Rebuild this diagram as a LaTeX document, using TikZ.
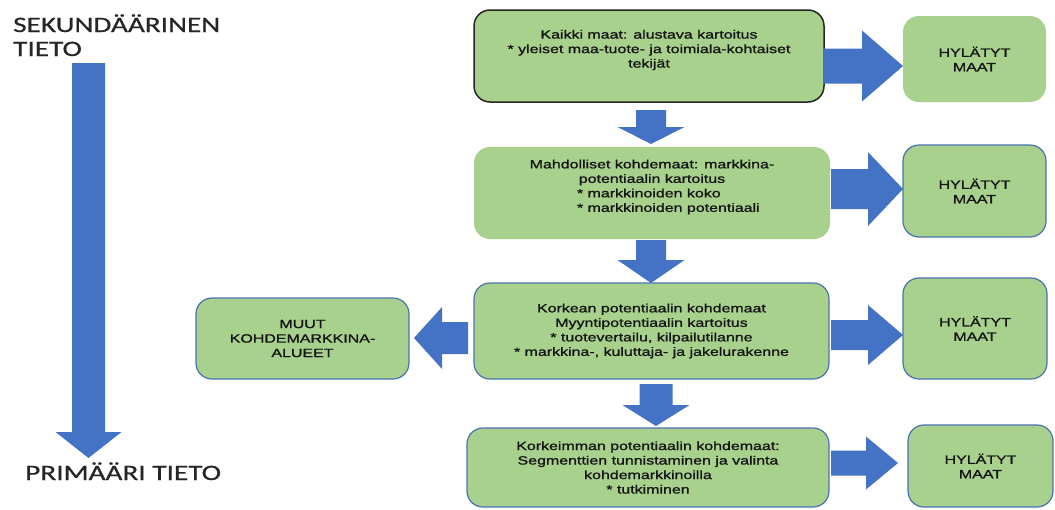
\documentclass[tikz,border=0pt]{standalone}
\usepackage{fontspec}
\setmainfont{Liberation Sans}[FakeStretch=1.33,FakeBold=1.2]
\newfontfamily\sidefont{Carlito}[FakeStretch=1.33,FakeBold=0.6]
\definecolor{boxgreen}{HTML}{A9D18E}
\definecolor{arrowblue}{HTML}{4472C4}
\definecolor{edgeblue}{HTML}{4A72B0}
\definecolor{txt}{HTML}{141414}
\definecolor{sidetxt}{HTML}{262626}
% horizontal block arrow: tail x, head-base x, tip x, centre y, shaft half width, head half width
\newcommand{\blockR}[6]{\fill[arrowblue] (#1,#4-#5) -- (#2,#4-#5) -- (#2,#4-#6) -- (#3,#4) -- (#2,#4+#6) -- (#2,#4+#5) -- (#1,#4+#5) -- cycle;}
% vertical block arrow: centre x, tail y, head-base y, tip y, shaft half width, head half width
\newcommand{\blockD}[6]{\fill[arrowblue] (#1-#5,#2) -- (#1-#5,#3) -- (#1-#6,#3) -- (#1,#4) -- (#1+#6,#3) -- (#1+#5,#3) -- (#1+#5,#2) -- cycle;}
\tikzset{
  box/.style={rectangle, rounded corners=16pt, fill=boxgreen, inner sep=0pt, align=center,
    text=txt, font=\fontsize{12}{14.5}\selectfont},
  blueedge/.style={draw=edgeblue, line width=1.2pt},
  darkedge/.style={draw=black!85, line width=1.5pt},
  side/.style={inner sep=0pt, anchor=base west, text=sidetxt, font=\sidefont\fontsize{22}{24}\selectfont},
}
\begin{document}
\begin{tikzpicture}[x=1pt,y=-1pt]
\fill[white] (0,0) rectangle (1055,509);
\useasboundingbox (0,0) rectangle (1055,509);

% left labels and big arrow
\node[side] (sek) at (13,32) {SEKUNDÄÄRINEN};
\node[side] (tieto) at (13,56) {TIETO};
\node[side] (prim) at (25,480) {PRIMÄÄRI TIETO};
\blockD{88.5}{63}{432}{458}{16.5}{33}

% main boxes
\node[box, darkedge, minimum width=350pt, minimum height=92pt] (b1) at (649,56)
  {Kaikki maat: alustava kartoitus\\* yleiset maa-tuote- ja toimiala-kohtaiset\\tekijät\\\mbox{}};
\node[box, minimum width=356pt, minimum height=92pt] (b2) at (652,193)
  {Mahdolliset kohdemaat: markkina-\\potentiaalin kartoitus\\\makebox[150pt][l]{* markkinoiden koko}\\\makebox[150pt][l]{* markkinoiden potentiaali}\\\mbox{}};
\node[box, blueedge, minimum width=355pt, minimum height=96pt] (b3) at (651.5,331)
  {Korkean potentiaalin kohdemaat\\Myyntipotentiaalin kartoitus\\* tuotevertailu, kilpailutilanne\\* markkina-, kuluttaja- ja jakelurakenne};
\node[box, blueedge, minimum width=362pt, minimum height=79pt] (b4) at (648,467.5)
  {Korkeimman potentiaalin kohdemaat:\\Segmenttien tunnistaminen ja valinta\\kohdemarkkinoilla\\* tutkiminen};
\node[box, blueedge, minimum width=213pt, minimum height=81pt] (muut) at (302.5,338.5)
  {MUUT\\KOHDEMARKKINA-\\ALUEET};

% rejected boxes
\node[box, minimum width=143pt, minimum height=86pt] (h1) at (974.5,59) {HYLÄTYT\\MAAT};
\node[box, blueedge, minimum width=143pt, minimum height=92pt] (h2) at (974.5,191) {HYLÄTYT\\MAAT};
\node[box, blueedge, minimum width=144pt, minimum height=101pt] (h3) at (975,328.5) {HYLÄTYT\\MAAT};
\node[box, blueedge, minimum width=145pt, minimum height=82pt] (h4) at (980.5,466) {HYLÄTYT\\MAAT};

% block arrows
\blockR{823}{862}{903}{66}{17.5}{35.5}
\blockR{831}{868}{903}{189}{20}{37}
\blockR{831}{868}{903}{335}{15}{30}
\blockR{831}{866}{898}{463}{12.5}{26.5}
\blockR{468}{442}{414}{338}{16}{31}
\blockD{651}{110}{127}{144}{15}{33.5}
\blockD{651}{240}{260}{283}{15}{33.5}
\blockD{656}{384}{405}{426}{16.5}{33.5}
\end{tikzpicture}
\end{document}
